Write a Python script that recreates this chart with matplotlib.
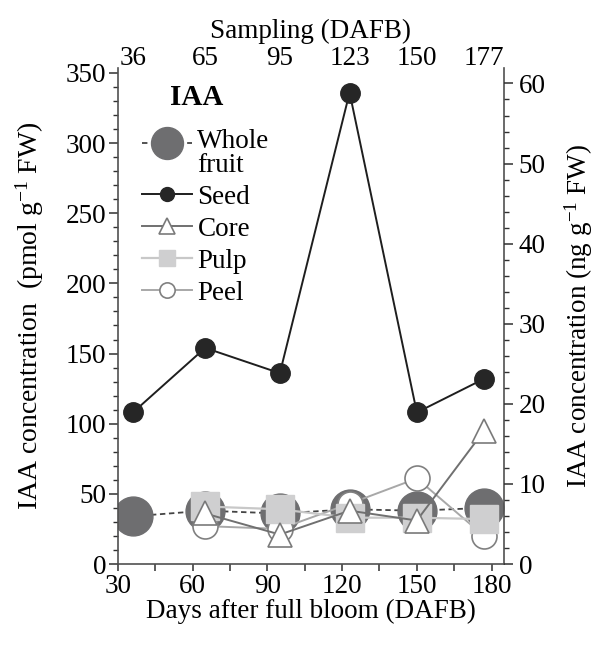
import matplotlib
matplotlib.use("Agg")
import matplotlib.pyplot as plt
from matplotlib.lines import Line2D
from matplotlib.legend_handler import HandlerLine2D
from matplotlib.ticker import MultipleLocator

plt.rcParams['font.family'] = ['Liberation Serif', 'DejaVu Serif']
plt.rcParams['mathtext.fontset'] = 'custom'
plt.rcParams['mathtext.rm'] = 'Liberation Serif'
plt.rcParams['mathtext.it'] = 'Liberation Serif:italic'

# ---- data ----
days = [36, 65, 95, 123, 150, 177]
whole_fruit = [34, 38, 36, 39, 38, 40]
seed = [108, 154, 136, 336, 108, 132]
core = [None, 36, 21, 38, 31, 95]
pulp = [None, 41, 39, 33, 33, 32]
peel = [None, 27, 25, 43, 61, 20]
sampling_labels = ['36', '65', '95', '123', '150', '177']
pmol_to_ng = 0.1752


def valid(xs, ys):
    pts = [(x, y) for x, y in zip(xs, ys) if y is not None]
    return [p[0] for p in pts], [p[1] for p in pts]


FS = 19.5
fig = plt.figure(figsize=(5.96, 6.48), dpi=100)
ax = fig.add_axes([118/596, 1-564/648, (504-118)/596, (564-68)/648])

ax.plot(days, whole_fruit, ls=(0, (3, 2)), color='#444444', lw=1.3, marker='o',
        ms=28, mfc='#6e6e70', mec='#6e6e70', zorder=2)
ax.plot(*valid(days, peel), ls='-', color='#a8a8a8', lw=1.4, marker='o', ms=18,
        mfc='white', mec='#808080', mew=1.2, zorder=3)
ax.plot(*valid(days, pulp), ls='-', color='#c8c8c8', lw=1.6, marker='s', ms=20,
        mfc='#cfcfd0', mec='#cfcfd0', zorder=4)
ax.plot(*valid(days, core), ls='-', color='#707070', lw=1.4, marker='^', ms=17,
        mfc='white', mec='#7a7a7a', mew=1.2, zorder=5)
ax.plot(days, seed, ls='-', color='#1e1e1e', lw=1.4, marker='o', ms=14,
        mfc='#262626', mec='#262626', zorder=6)

ax.set_xlim(30, 185)
ax.set_ylim(0, 353.5)
ax.xaxis.set_major_locator(MultipleLocator(30))
ax.xaxis.set_minor_locator(MultipleLocator(15))
ax.yaxis.set_major_locator(MultipleLocator(50))
ax.yaxis.set_minor_locator(MultipleLocator(10))
ax.spines['top'].set_visible(False)
for s in ['left', 'bottom', 'right']:
    ax.spines[s].set_color('#505050')
    ax.spines[s].set_linewidth(1.2)
ax.tick_params(axis='x', which='both', direction='out', length=5, width=1.1,
               color='#303030', labelsize=FS, pad=2)
ax.tick_params(axis='y', which='major', direction='out', length=6.5, width=1.1,
               color='#303030', labelsize=FS, pad=2)
ax.tick_params(axis='y', which='minor', direction='out', length=3.5, width=1.0,
               color='#303030')
ax.set_xlabel('Days after full bloom (DAFB)', fontsize=FS, labelpad=0)
ax.set_ylabel('IAA concentration  (pmol g$^{-1}$ FW)', fontsize=FS + 0.5,
              labelpad=14)

# right axis in ng
ax2 = ax.twinx()
ax2.set_ylim(0, 353.5 * pmol_to_ng)
ax2.yaxis.set_major_locator(MultipleLocator(10))
ax2.yaxis.set_minor_locator(MultipleLocator(2))
for s in ['top', 'left', 'bottom', 'right']:
    ax2.spines[s].set_visible(False)
ax2.tick_params(axis='y', which='major', direction='out', length=6.5, width=1.1,
                color='#303030', labelsize=FS, pad=4)
ax2.tick_params(axis='y', which='minor', direction='out', length=3.5, width=1.0,
                color='#303030')
ax2.set_ylabel('IAA concentration (ng g$^{-1}$ FW)', fontsize=FS, labelpad=12)

# top sampling axis
ax3 = ax.twiny()
ax3.set_xlim(ax.get_xlim())
ax3.set_xticks(days)
ax3.set_xticklabels(sampling_labels)
for s in ['top', 'left', 'bottom', 'right']:
    ax3.spines[s].set_visible(False)
ax3.tick_params(axis='x', length=0, labelsize=FS, pad=-2.5)
ax3.set_xlabel('Sampling (DAFB)', fontsize=FS, labelpad=6)


class RaisedHandler(HandlerLine2D):
    def __init__(self, raise_frac, **kw):
        super().__init__(**kw)
        self.raise_frac = raise_frac

    def create_artists(self, legend, orig_handle, xdescent, ydescent, width,
                       height, fontsize, trans):
        shift = self.raise_frac * fontsize
        return super().create_artists(legend, orig_handle, xdescent,
                                      ydescent - 2 * shift, width, height,
                                      fontsize, trans)


# legend
h_whole = Line2D([], [], ls=(0, (3, 2)), color='#444444', lw=1.3, marker='o',
                 ms=23, mfc='#6e6e70', mec='#6e6e70')
handles = [
    h_whole,
    Line2D([], [], ls='-', color='#1e1e1e', lw=1.4, marker='o', ms=10,
           mfc='#262626', mec='#262626'),
    Line2D([], [], ls='-', color='#707070', lw=1.4, marker='^', ms=11,
           mfc='white', mec='#7a7a7a', mew=1.2),
    Line2D([], [], ls='-', color='#c8c8c8', lw=1.6, marker='s', ms=12,
           mfc='#cfcfd0', mec='#cfcfd0'),
    Line2D([], [], ls='-', color='#a8a8a8', lw=1.4, marker='o', ms=11,
           mfc='white', mec='#808080', mew=1.2),
]
labels = ['Whole\nfruit', 'Seed', 'Core', 'Pulp', 'Peel']
leg = ax.legend(handles, labels, loc='upper left', bbox_to_anchor=(0.062, 0.878),
                frameon=False, fontsize=FS,
                handlelength=1.85, handletextpad=0.2, labelspacing=0.26,
                borderaxespad=0.0, borderpad=0.0,
                handler_map={h_whole: RaisedHandler(0.38)})
leg.get_texts()[0].set_linespacing(0.95)
leg.set_zorder(10)
ax.text(0.205, 0.9415, 'IAA', transform=ax.transAxes, ha='center', va='center',
        fontsize=FS + 1.5, fontweight='bold', zorder=10)

fig.savefig('out.png', dpi=100)
